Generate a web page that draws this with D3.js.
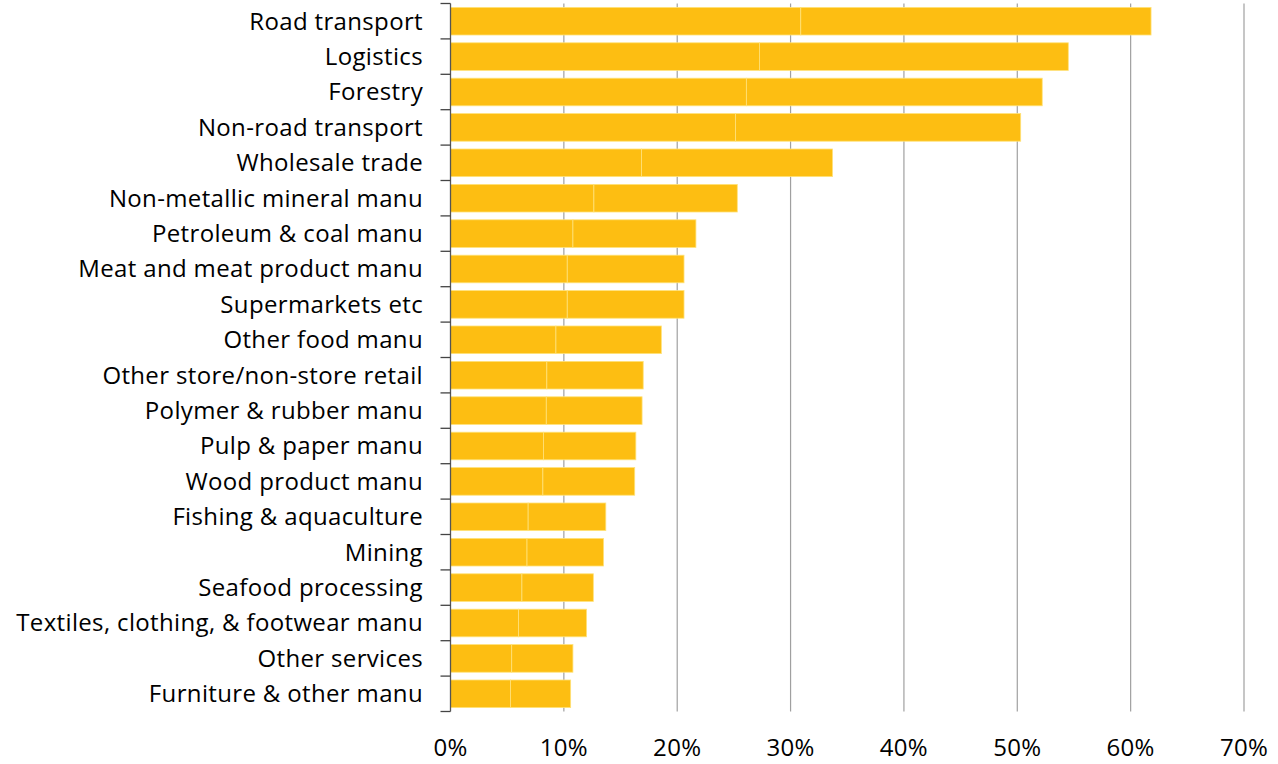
<!DOCTYPE html>
<html>
<head>
<meta charset="utf-8">
<script src="https://cdn.jsdelivr.net/npm/d3@7"></script>
<style>
  body { margin: 0; background: #fff; }
  text { font-family: "Open Sans", "Noto Sans", sans-serif; fill: #000; }
</style>
</head>
<body>
<div id="chart"></div>
<script>
const width = 1278;
const height = 764;

const categories = [
    "Road transport", "Logistics", "Forestry", "Non-road transport", "Wholesale trade",
    "Non-metallic mineral manu", "Petroleum & coal manu", "Meat and meat product manu",
    "Supermarkets etc", "Other food manu", "Other store/non-store retail",
    "Polymer & rubber manu", "Pulp & paper manu", "Wood product manu",
    "Fishing & aquaculture", "Mining", "Seafood processing",
    "Textiles, clothing, & footwear manu", "Other services", "Furniture & other manu"
];

// two stacked segments per bar (same colour), in percent
const seriesA = [30.9, 27.25, 26.1, 25.15, 16.85, 12.65, 10.8, 10.3, 10.3, 9.3,
    8.5, 8.45, 8.2, 8.15, 6.85, 6.75, 6.3, 6.0, 5.4, 5.3];
const seriesB = [30.9, 27.25, 26.1, 25.15, 16.85, 12.65, 10.85, 10.3, 10.3, 9.3,
    8.5, 8.45, 8.15, 8.1, 6.85, 6.75, 6.3, 6.0, 5.4, 5.3];

const xTicks = [0, 10, 20, 30, 40, 50, 60, 70];

const margin = { top: 3.5, left: 450.5, right: 34, bottom: 52.5 };

const svg = d3.select("#chart")
    .append("svg")
    .attr("width", width)
    .attr("height", height);

const x = d3.scaleLinear()
    .domain([0, 70])
    .range([margin.left, width - margin.right]);

const y = d3.scaleBand()
    .domain(categories)
    .range([margin.top, height - margin.bottom])
    .paddingInner(0.22)
    .paddingOuter(0.11);

// gridlines
svg.append("g")
    .selectAll("line")
    .data(xTicks.filter(d => d > 0))
    .enter()
    .append("line")
    .attr("x1", d => x(d))
    .attr("x2", d => x(d))
    .attr("y1", margin.top)
    .attr("y2", height - margin.bottom)
    .attr("stroke", "#a0a0a0")
    .attr("stroke-width", 1.2);

const stackData = categories.map((c, i) => ({ cat: c, a: seriesA[i], b: seriesB[i] }));
const stacked = d3.stack().keys(["a", "b"])(stackData);

svg.append("g")
    .selectAll("g")
    .data(stacked)
    .enter()
    .append("g")
    .selectAll("rect")
    .data(d => d)
    .enter()
    .append("rect")
    .attr("x", d => x(d[0]))
    .attr("y", d => y(d.data.cat))
    .attr("width", d => x(d[1]) - x(d[0]))
    .attr("height", y.bandwidth())
    .attr("fill", "#FDBE12")
    .attr("stroke", "#FFE27A")
    .attr("stroke-width", 0.8);

// y axis with ticks at category boundaries
const yAxis = svg.append("g");
yAxis.append("line")
    .attr("x1", margin.left)
    .attr("x2", margin.left)
    .attr("y1", margin.top)
    .attr("y2", height - margin.bottom)
    .attr("stroke", "#555")
    .attr("stroke-width", 1.3);

const step = y.step();
yAxis.selectAll("line.tick")
    .data(d3.range(categories.length + 1))
    .enter()
    .append("line")
    .attr("class", "tick")
    .attr("x1", margin.left - 10)
    .attr("x2", margin.left)
    .attr("y1", i => margin.top + i * step)
    .attr("y2", i => margin.top + i * step)
    .attr("stroke", "#444")
    .attr("stroke-width", 1.3);

yAxis.selectAll("text")
    .data(categories)
    .enter()
    .append("text")
    .attr("x", 423)
    .attr("y", d => y(d) + y.bandwidth() / 2)
    .attr("dy", "0.35em")
    .attr("text-anchor", "end")
    .style("font-size", "24px")
    .style("letter-spacing", "0.35px")
    .text(d => d);

// x labels
svg.append("g")
    .selectAll("text")
    .data(xTicks)
    .enter()
    .append("text")
    .attr("x", d => x(d))
    .attr("y", 756)
    .attr("text-anchor", "middle")
    .style("font-size", "24px")
    .style("letter-spacing", "0.3px")
    .text(d => `${d}%`);
</script>
</body>
</html>
